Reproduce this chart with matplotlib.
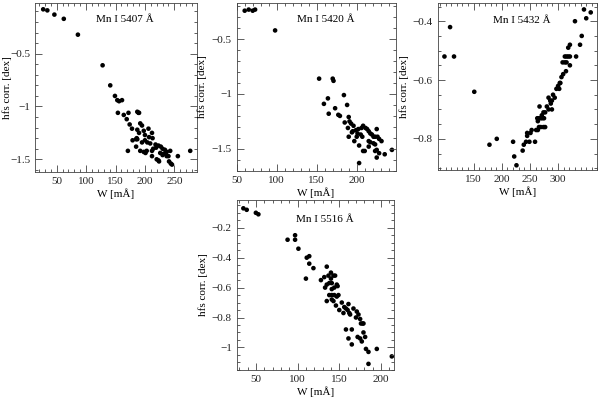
import numpy as np
import matplotlib
matplotlib.use("Agg")
import matplotlib.pyplot as plt
from matplotlib.ticker import MultipleLocator, FixedLocator, FuncFormatter

plt.rcParams['font.family'] = ['Liberation Serif', 'DejaVu Serif']
plt.rcParams['font.size'] = 8

# Mn I 5407
w_5407 = [27, 34, 46, 62, 86, 128, 141, 149, 153, 156, 161, 154, 164, 172, 169, 174, 178,
          187, 189, 190, 192, 195, 187, 190, 179, 186, 198, 206, 212, 213, 200, 204, 209,
          185, 192, 203, 212, 214, 171, 212, 220, 223, 224, 223, 227, 230, 234, 237, 243,
          231, 237, 240, 241, 244, 246, 256, 277, 200, 195, 207, 198, 201, 218, 219, 226,
          230, 235, 185, 187]
hfs_5407 = [-0.08, -0.09, -0.13, -0.17, -0.32, -0.61, -0.80, -0.90, -0.94, -0.95, -0.94,
            -1.06, -1.08, -1.06, -1.12, -1.17, -1.21, -1.05, -1.06, -1.06, -1.16, -1.18,
            -1.22, -1.25, -1.32, -1.30, -1.23, -1.21, -1.25, -1.30, -1.32, -1.34, -1.35,
            -1.38, -1.42, -1.42, -1.42, -1.40, -1.42, -1.47, -1.50, -1.51, -1.52, -1.37,
            -1.38, -1.40, -1.41, -1.43, -1.42, -1.45, -1.47, -1.47, -1.52, -1.54, -1.55,
            -1.47, -1.42, -1.27, -1.34, -1.29, -1.43, -1.44, -1.36, -1.39, -1.44, -1.46,
            -1.44, -1.31, -1.31]

# Mn I 5420
w_5420 = [60, 65, 70, 73, 98, 153, 170, 171, 184, 164, 159, 188, 173, 165, 177, 179, 185,
          190, 191, 193, 196, 189, 190, 195, 199, 202, 206, 208, 211, 213, 200, 205, 207,
          215, 217, 219, 221, 223, 225, 226, 228, 231, 197, 203, 208, 210, 215, 217, 215,
          221, 223, 225, 223, 228, 235, 225, 203, 244, 194, 201]
hfs_5420 = [-0.24, -0.23, -0.24, -0.23, -0.42, -0.86, -0.86, -0.88, -1.01, -1.04, -1.09,
            -1.10, -1.13, -1.18, -1.19, -1.20, -1.26, -1.21, -1.25, -1.27, -1.29, -1.31,
            -1.39, -1.34, -1.33, -1.32, -1.31, -1.29, -1.31, -1.32, -1.39, -1.37, -1.39,
            -1.34, -1.36, -1.37, -1.39, -1.39, -1.32, -1.39, -1.41, -1.43, -1.43, -1.47,
            -1.52, -1.52, -1.43, -1.44, -1.48, -1.45, -1.46, -1.51, -1.52, -1.54, -1.55,
            -1.58, -1.63, -1.51, -1.35, -1.36]

# Mn I 5432
w_5432 = [98, 108, 115, 151, 178, 191, 220, 222, 226, 239, 237, 243, 245, 245, 249, 251,
          253, 259, 261, 264, 266, 269, 274, 277, 263, 266, 269, 272, 275, 264, 267, 274,
          277, 271, 280, 283, 289, 283, 289, 286, 287, 291, 294, 297, 300, 302, 303, 304,
          309, 306, 314, 308, 312, 315, 321, 312, 315, 318, 321, 332, 318, 321, 339, 342,
          330, 350, 346, 358]
hfs_5432 = [-0.52, -0.42, -0.52, -0.64, -0.82, -0.80, -0.81, -0.86, -0.89, -0.82, -0.84,
            -0.81, -0.78, -0.79, -0.81, -0.78, -0.77, -0.81, -0.77, -0.77, -0.76, -0.76,
            -0.76, -0.76, -0.73, -0.73, -0.73, -0.73, -0.73, -0.74, -0.69, -0.71, -0.71,
            -0.72, -0.69, -0.70, -0.70, -0.66, -0.67, -0.67, -0.68, -0.65, -0.66, -0.63,
            -0.62, -0.63, -0.61, -0.61, -0.58, -0.59, -0.57, -0.54, -0.54, -0.54, -0.55,
            -0.52, -0.52, -0.52, -0.52, -0.52, -0.49, -0.48, -0.48, -0.45, -0.40, -0.39,
            -0.36, -0.37]

# Mn I 5516
w_5516 = [35, 39, 50, 53, 88, 97, 97, 101, 111, 114, 114, 119, 110, 128, 135, 132, 137,
          140, 140, 143, 145, 138, 141, 135, 133, 141, 144, 147, 148, 138, 141, 144, 147,
          141, 143, 149, 135, 146, 153, 156, 150, 155, 161, 158, 160, 162, 163, 167, 171,
          170, 173, 175, 176, 178, 179, 158, 165, 161, 165, 172, 175, 177, 179, 181, 182,
          185, 195, 185, 213]
hfs_5516 = [-0.07, -0.08, -0.10, -0.11, -0.28, -0.25, -0.28, -0.34, -0.40, -0.39, -0.44,
            -0.47, -0.54, -0.55, -0.46, -0.53, -0.52, -0.50, -0.54, -0.52, -0.52, -0.57,
            -0.57, -0.58, -0.60, -0.61, -0.60, -0.58, -0.59, -0.65, -0.65, -0.65, -0.66,
            -0.68, -0.69, -0.65, -0.69, -0.72, -0.70, -0.73, -0.75, -0.77, -0.71, -0.74,
            -0.75, -0.77, -0.78, -0.74, -0.76, -0.80, -0.78, -0.81, -0.84, -0.84, -0.84,
            -0.88, -0.88, -0.94, -0.98, -0.93, -0.94, -0.96, -0.90, -0.93, -1.01, -1.03,
            -1.01, -1.11, -1.06]

panels = [
    # x, y, label, rect, xlim, ylim, xticks, xminor, ymajor, yminor, text pos, ylabel x
    (w_5407, hfs_5407, 'Mn I 5407 Å', [0.0583, 0.5668, 0.2695, 0.4257], (13, 288), (-1.62, -0.02),
     [50, 100, 150, 200, 250], 10, 0.5, 0.1, (0.556, 0.90), -0.142),
    (w_5420, hfs_5420, 'Mn I 5420 Å', [0.3945, 0.5700, 0.2647, 0.4224], (50, 248.5), (-1.70, -0.17),
     [50, 100, 150, 200], 10, 0.5, 0.1, (0.558, 0.90), -0.188),
    (w_5432, hfs_5432, 'Mn I 5432 Å', [0.7295, 0.5718, 0.2663, 0.4214], (86, 370), (-0.906, -0.337),
     [150, 200, 250, 300], 10, 0.2, 0.05, (0.526, 0.895), -0.18),
    (w_5516, hfs_5516, 'Mn I 5516 Å', [0.3945, 0.0680, 0.2627, 0.4280], (27, 216), (-1.151, -0.015),
     [50, 100, 150, 200], 10, 0.2, 0.05, (0.56, 0.888), -0.182),
]

fmt = FuncFormatter(lambda v, p: ('%g' % round(v, 3)).replace('-', '\u2212'))

fig = plt.figure(figsize=(6.0, 3.97), dpi=100)
for w, hfs, label, rect, xlim, ylim, xt, xmin, ymaj, ymin, tpos, ylx in panels:
    ax = fig.add_axes(rect)
    ax.scatter(w, hfs, s=11, c='black', edgecolors='none')
    ax.set_xlim(*xlim)
    ax.set_ylim(*ylim)
    ax.xaxis.set_major_locator(FixedLocator(xt))
    ax.xaxis.set_minor_locator(MultipleLocator(xmin))
    ax.yaxis.set_major_locator(MultipleLocator(ymaj))
    ax.yaxis.set_minor_locator(MultipleLocator(ymin))
    ax.xaxis.set_major_formatter(fmt)
    ax.yaxis.set_major_formatter(fmt)
    ax.tick_params(which='both', direction='in', top=True, right=True, labelsize=8,
                   width=0.6, color='#444444', labelcolor='#222222')
    ax.tick_params(which='major', length=5)
    ax.tick_params(which='minor', length=2.5)
    for sp in ax.spines.values():
        sp.set_linewidth(0.6)
        sp.set_color('#444444')
    ax.set_xlabel('W [mÅ]', fontsize=8, labelpad=2)
    ax.set_ylabel('hfs corr. [dex]', fontsize=8)
    ax.yaxis.set_label_coords(ylx, 0.5)
    ax.text(tpos[0], tpos[1], label, transform=ax.transAxes, ha='center', va='center', fontsize=8)

fig.savefig('out.png', dpi=100)
